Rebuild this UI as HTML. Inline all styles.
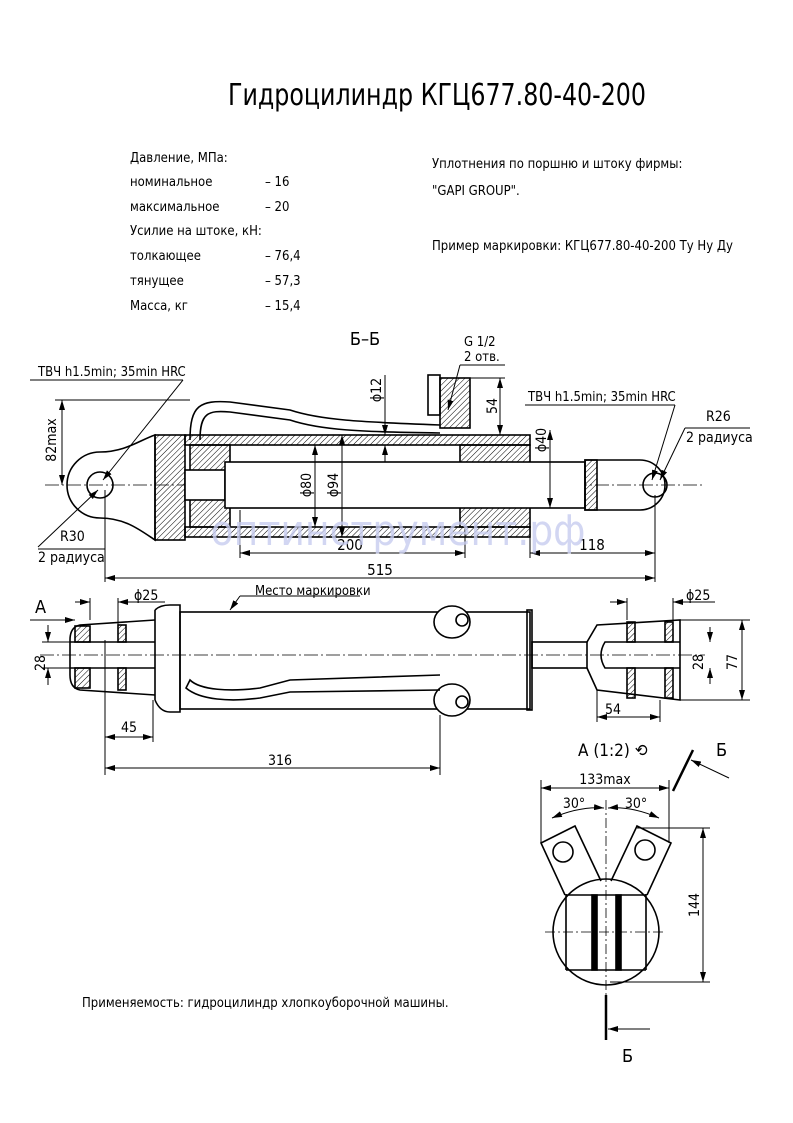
<!DOCTYPE html>
<html><head><meta charset="utf-8"><style>
html,body{margin:0;padding:0;background:#fff}
svg{display:block}
text{font-family:"DejaVu Sans Condensed","Liberation Sans Narrow","Liberation Sans",sans-serif;fill:#000}
</style></head><body>
<svg width="793" height="1123" viewBox="0 0 793 1123" xmlns="http://www.w3.org/2000/svg">
<defs>
<pattern id="h" width="4" height="4" patternUnits="userSpaceOnUse" patternTransform="rotate(45)"><line x1="0" y1="0" x2="0" y2="4" stroke="#000" stroke-width="1"/></pattern>
<marker id="a" markerWidth="10" markerHeight="6" refX="10" refY="3" orient="auto-start-reverse" markerUnits="userSpaceOnUse"><path d="M0,0 L10,3 L0,6z" fill="#000"/></marker>
</defs>
<text x="437" y="105" font-size="30" text-anchor="middle" textLength="418" lengthAdjust="spacingAndGlyphs">Гидроцилиндр КГЦ677.80-40-200</text>
<g font-size="13">
<text x="130" y="162">Давление, МПа:</text>
<text x="130" y="186">номинальное</text><text x="265" y="186">– 16</text>
<text x="130" y="211">максимальное</text><text x="265" y="211">– 20</text>
<text x="130" y="235">Усилие на штоке, кН:</text>
<text x="130" y="260">толкающее</text><text x="265" y="260">– 76,4</text>
<text x="130" y="285">тянущее</text><text x="265" y="285">– 57,3</text>
<text x="130" y="310">Масса, кг</text><text x="265" y="310">– 15,4</text>
<text x="432" y="168">Уплотнения по поршню и штоку фирмы:</text>
<text x="432" y="195">"GAPI GROUP".</text>
<text x="432" y="250">Пример маркировки: КГЦ677.80-40-200 Ту Ну Ду</text>
<text x="82" y="1007">Применяемость: гидроцилиндр хлопкоуборочной машины.</text>
</g>
<text x="365" y="345" font-size="18" text-anchor="middle">Б–Б</text>

<g stroke="#000" fill="none" stroke-width="1.6">
<!-- section view -->
<line x1="45" y1="485" x2="705" y2="485" stroke-width="0.8" stroke-dasharray="14,3,2,3"/>
<path d="M100,452 C125,452 140,440 155,435 L155,540 C140,530 125,518 100,518 A33,33 0 0 1 100,452z"/>
<circle cx="100" cy="485" r="13"/>
<rect x="155" y="435" width="30" height="105" fill="url(#h)"/>
<rect x="185" y="435" width="345" height="10" fill="url(#h)"/>
<rect x="185" y="527" width="345" height="10" fill="url(#h)"/>
<rect x="190" y="445" width="40" height="82" fill="url(#h)"/>
<rect x="460" y="445" width="70" height="82" fill="url(#h)"/>
<rect x="185" y="470" width="40" height="30" fill="#fff"/>
<rect x="225" y="462" width="360" height="46" fill="#fff"/>
<path d="M585,460 L640,460 A25,25 0 0 1 640,510 L585,510z"/>
<rect x="585" y="460" width="12" height="50" fill="url(#h)"/>
<circle cx="655" cy="485" r="12"/>
<path d="M190,440 C190,405 200,400 230,402 L290,410 C320,420 360,422 440,425" stroke-width="1.6"/>
<path d="M200,440 C200,413 208,410 230,412 L290,420 C320,430 360,432 440,433"/>
<rect x="428" y="375" width="12" height="40"/>
<rect x="440" y="378" width="30" height="50" fill="url(#h)"/>
<!-- leaders -->
<line x1="30" y1="380" x2="183" y2="380" stroke-width="1"/>
<line x1="183" y1="380" x2="103" y2="480" stroke-width="1" marker-end="url(#a)"/>
<line x1="38" y1="547" x2="98" y2="490" stroke-width="1" marker-end="url(#a)"/>
<line x1="38" y1="549" x2="105" y2="549" stroke-width="1"/>
<line x1="525" y1="405" x2="675" y2="405" stroke-width="1"/>
<line x1="675" y1="405" x2="652" y2="480" stroke-width="1" marker-end="url(#a)"/>
<line x1="685" y1="428" x2="660" y2="480" stroke-width="1" marker-end="url(#a)"/>
<line x1="685" y1="428" x2="750" y2="428" stroke-width="1"/>
<line x1="460" y1="365" x2="505" y2="365" stroke-width="1"/>
<line x1="460" y1="365" x2="448" y2="410" stroke-width="1" marker-end="url(#a)"/>
<!-- dims -->
<g stroke-width="1">
<line x1="55" y1="400" x2="190" y2="400"/>
<line x1="62" y1="400" x2="62" y2="485" marker-start="url(#a)" marker-end="url(#a)"/>
<line x1="105" y1="490" x2="105" y2="582"/><line x1="655" y1="495" x2="655" y2="582"/>
<line x1="105" y1="578" x2="655" y2="578" marker-start="url(#a)" marker-end="url(#a)"/>
<line x1="240" y1="510" x2="240" y2="558"/><line x1="465" y1="527" x2="465" y2="558"/>
<line x1="240" y1="553" x2="465" y2="553" marker-start="url(#a)" marker-end="url(#a)"/>
<line x1="530" y1="537" x2="530" y2="558"/>
<line x1="530" y1="553" x2="655" y2="553" marker-start="url(#a)" marker-end="url(#a)"/>
<line x1="315" y1="445" x2="315" y2="527" marker-start="url(#a)" marker-end="url(#a)"/>
<line x1="342" y1="435" x2="342" y2="537" marker-start="url(#a)" marker-end="url(#a)"/>
<line x1="385" y1="375" x2="385" y2="435" marker-end="url(#a)"/>
<line x1="385" y1="462" x2="385" y2="445" marker-end="url(#a)"/>
<line x1="550" y1="430" x2="550" y2="508" marker-start="url(#a)" marker-end="url(#a)"/>
<line x1="470" y1="378" x2="505" y2="378"/>
<line x1="500" y1="378" x2="500" y2="435" marker-start="url(#a)" marker-end="url(#a)"/>
</g>
<!-- lower view -->
<line x1="40" y1="655" x2="705" y2="655" stroke-width="0.8" stroke-dasharray="14,3,2,3"/>
<path d="M155,620 L80,625 Q70,627 70,640 L70,675 Q70,688 80,690 L155,695"/>
<rect x="75" y="626" width="15" height="16" fill="url(#h)"/><rect x="75" y="668" width="15" height="20" fill="url(#h)"/>
<rect x="118" y="625" width="8" height="17" fill="url(#h)"/><rect x="118" y="668" width="8" height="22" fill="url(#h)"/>
<path d="M70,642 L155,642 M70,668 L155,668"/>
<path d="M155,610 L155,700 M155,610 Q160,605 170,605 L180,605 L180,712 L170,712 Q160,712 155,700"/>
<rect x="180" y="612" width="350" height="97"/>
<rect x="527" y="610" width="5" height="100"/>
<rect x="532" y="642" width="55" height="26"/>
<path d="M587,642 L597,625 L680,620 L680,700 L597,690 L587,668"/>
<rect x="627" y="622" width="8" height="20" fill="url(#h)"/><rect x="627" y="668" width="8" height="30" fill="url(#h)"/>
<rect x="665" y="622" width="8" height="20" fill="url(#h)"/><rect x="665" y="668" width="8" height="30" fill="url(#h)"/>
<path d="M680,642 L605,642 Q597,655 605,668 L680,668"/>
<ellipse cx="452" cy="622" rx="18" ry="16" fill="#fff"/><circle cx="462" cy="620" r="6"/>
<ellipse cx="452" cy="700" rx="18" ry="16" fill="#fff"/><circle cx="462" cy="702" r="6"/>
<path d="M440,675 L290,680 L260,688 C230,692 200,690 190,680 L186,688 C200,700 230,702 260,698 L290,692 L440,690"/>
<g stroke-width="1">
<line x1="30" y1="620" x2="75" y2="620" marker-end="url(#a)"/>
<line x1="42" y1="642" x2="70" y2="642"/><line x1="42" y1="668" x2="70" y2="668"/>
<line x1="48" y1="625" x2="48" y2="642" marker-end="url(#a)"/><line x1="48" y1="685" x2="48" y2="668" marker-end="url(#a)"/>
<line x1="90" y1="598" x2="90" y2="620"/><line x1="118" y1="598" x2="118" y2="625"/>
<line x1="75" y1="602" x2="90" y2="602" marker-end="url(#a)"/><line x1="165" y1="602" x2="118" y2="602" marker-end="url(#a)"/>
<line x1="105" y1="640" x2="105" y2="775"/><line x1="153" y1="700" x2="153" y2="742"/>
<line x1="105" y1="737" x2="153" y2="737" marker-start="url(#a)" marker-end="url(#a)"/>
<line x1="440" y1="715" x2="440" y2="775"/>
<line x1="105" y1="768" x2="440" y2="768" marker-start="url(#a)" marker-end="url(#a)"/>
<line x1="230" y1="610" x2="240" y2="596" marker-start="url(#a)"/><line x1="240" y1="596" x2="360" y2="596"/>
<line x1="627" y1="598" x2="627" y2="620"/><line x1="673" y1="598" x2="673" y2="620"/>
<line x1="610" y1="602" x2="627" y2="602" marker-end="url(#a)"/><line x1="715" y1="602" x2="673" y2="602" marker-end="url(#a)"/>
<line x1="680" y1="620" x2="750" y2="620"/><line x1="680" y1="700" x2="750" y2="700"/>
<line x1="742" y1="620" x2="742" y2="700" marker-start="url(#a)" marker-end="url(#a)"/>
<line x1="710" y1="627" x2="710" y2="642" marker-end="url(#a)"/><line x1="710" y1="684" x2="710" y2="668" marker-end="url(#a)"/>
<line x1="597" y1="690" x2="597" y2="722"/><line x1="660" y1="700" x2="660" y2="722"/>
<line x1="597" y1="717" x2="660" y2="717" marker-start="url(#a)" marker-end="url(#a)"/>
</g>
<!-- detail A -->
<circle cx="606" cy="932" r="53"/>
<path d="M566,894 L566,970 M646,894 L646,970 M566,895 L646,895 M566,970 L646,970"/>
<rect x="592" y="895" width="5" height="75" fill="#000"/><rect x="616" y="895" width="5" height="75" fill="#000"/>
<path d="M565,895 L541,843 L575,826 L601,881"/>
<circle cx="563" cy="852" r="10"/>
<path d="M647,895 L671,843 L637,826 L611,881"/>
<circle cx="645" cy="850" r="10"/>
<line x1="606" y1="800" x2="606" y2="995" stroke-width="0.8" stroke-dasharray="10,3,2,3"/>
<line x1="545" y1="932" x2="665" y2="932" stroke-width="0.8" stroke-dasharray="10,3,2,3"/>
<g stroke-width="1">
<line x1="541" y1="780" x2="541" y2="843"/><line x1="669" y1="780" x2="669" y2="843"/>
<line x1="541" y1="788" x2="669" y2="788" marker-start="url(#a)" marker-end="url(#a)"/>
<path d="M552,818 Q580,806 604,808" marker-start="url(#a)" marker-end="url(#a)"/>
<path d="M608,808 Q632,806 659,818" marker-start="url(#a)" marker-end="url(#a)"/>
<line x1="637" y1="828" x2="710" y2="828"/><line x1="610" y1="982" x2="710" y2="982"/>
<line x1="703" y1="828" x2="703" y2="982" marker-start="url(#a)" marker-end="url(#a)"/>
<line x1="729" y1="778" x2="691" y2="760" marker-end="url(#a)"/>
<line x1="650" y1="1029" x2="608" y2="1029" marker-end="url(#a)"/>
</g>
<line x1="673" y1="791" x2="693" y2="750" stroke-width="2.5"/>
<line x1="606" y1="995" x2="606" y2="1040" stroke-width="2.5"/>
</g>
<g font-size="13">
<text x="38" y="376">ТВЧ h1.5min; 35min HRC</text>
<text x="528" y="401">ТВЧ h1.5min; 35min HRC</text>
<text x="706" y="421" font-size="14">R26</text><text x="686" y="442" font-size="14">2 радиуса</text>
<text x="60" y="541" font-size="14">R30</text><text x="38" y="562" font-size="14">2 радиуса</text>
<text x="464" y="346">G 1/2</text><text x="464" y="361">2 отв.</text>
<text x="380" y="575" font-size="15" text-anchor="middle">515</text>
<text x="350" y="550" font-size="15" text-anchor="middle">200</text>
<text x="592" y="550" font-size="15" text-anchor="middle">118</text>
<text transform="translate(56,440) rotate(-90)" font-size="14" text-anchor="middle">82max</text>
<text transform="translate(311,485) rotate(-90)" font-size="14" text-anchor="middle">ϕ80</text>
<text transform="translate(338,485) rotate(-90)" font-size="14" text-anchor="middle">ϕ94</text>
<text transform="translate(381,390) rotate(-90)" font-size="14" text-anchor="middle">ϕ12</text>
<text transform="translate(546,440) rotate(-90)" font-size="14" text-anchor="middle">ϕ40</text>
<text transform="translate(497,406) rotate(-90)" font-size="14" text-anchor="middle">54</text>
<text x="35" y="613" font-size="18">А</text>
<text transform="translate(45,663) rotate(-90)" font-size="14" text-anchor="middle">28</text>
<text x="134" y="600" font-size="14">ϕ25</text>
<text x="255" y="595">Место маркировки</text>
<text x="129" y="732" font-size="14" text-anchor="middle">45</text>
<text x="280" y="765" font-size="14" text-anchor="middle">316</text>
<text x="686" y="600" font-size="14">ϕ25</text>
<text transform="translate(703,662) rotate(-90)" font-size="14" text-anchor="middle">28</text>
<text transform="translate(737,662) rotate(-90)" font-size="14" text-anchor="middle">77</text>
<text x="605" y="714" font-size="14">54</text>
<text x="578" y="756" font-size="17">А (1:2) ⟲</text>
<text x="716" y="756" font-size="18">Б</text>
<text x="605" y="784" text-anchor="middle" font-size="14">133max</text>
<text x="574" y="808" font-size="14" text-anchor="middle">30°</text>
<text x="636" y="808" font-size="14" text-anchor="middle">30°</text>
<text transform="translate(699,905) rotate(-90)" font-size="14" text-anchor="middle">144</text>
<text x="622" y="1062" font-size="18">Б</text>
</g>
<text x="398" y="545" font-size="42" text-anchor="middle" fill="#c8cdf0" style="fill:#c8cdf0;opacity:0.8">оптинструмент.рф</text>
</svg>
</body></html>
